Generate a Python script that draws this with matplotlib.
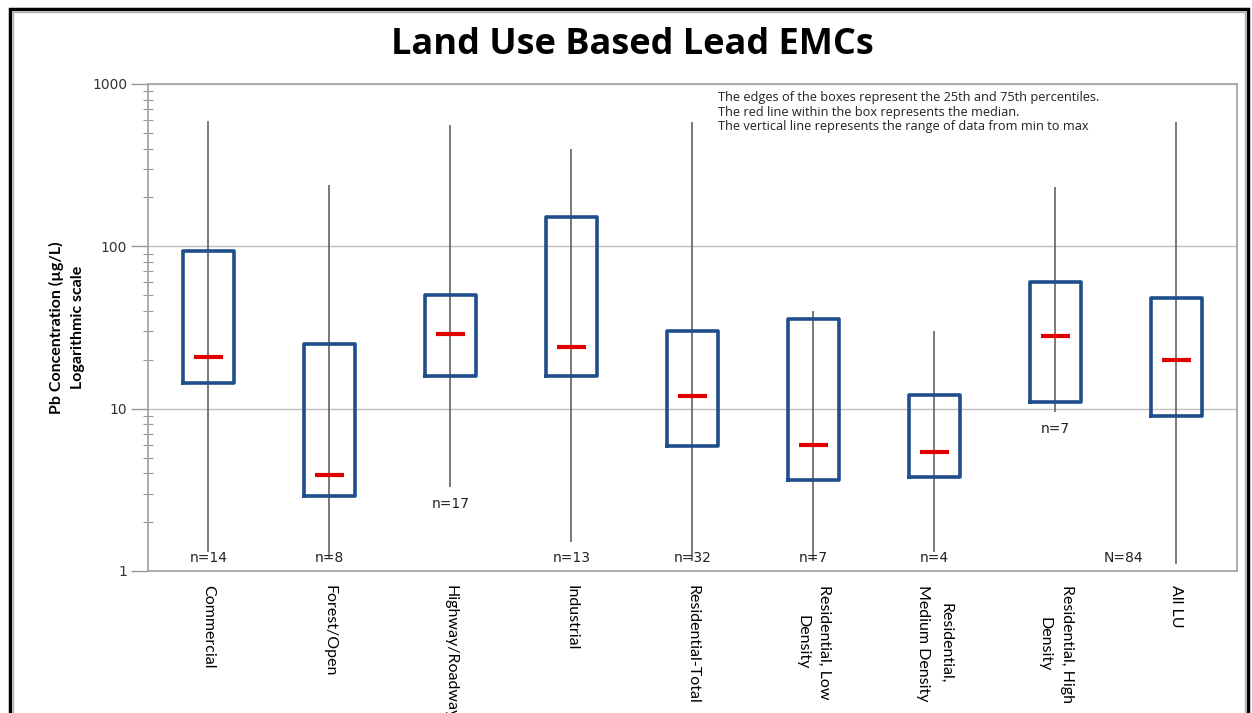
import numpy as np
import matplotlib.pyplot as plt
from matplotlib.patches import Rectangle
from matplotlib.ticker import LogLocator, NullFormatter, FixedLocator

# land use categories and their Pb EMC statistics (ug/L)
categories = ['Commercial', 'Forest/Open', 'Highway/Roadway', 'Industrial',
              'Residential-Total', 'Residential, Low\nDensity',
              'Residential,\nMedium Density', 'Residential, High\nDensity', 'All LU']
pb_min = [1.30, 1.20, 3.3, 1.50, 1.15, 1.15, 1.30, 9.6, 1.10]
pb_q1 = [14.3, 2.9, 16.0, 16.0, 5.9, 3.65, 3.8, 11.0, 9.0]
pb_med = [20.9, 3.9, 29.0, 24.0, 12.0, 6.0, 5.4, 28.0, 20.0]
pb_q3 = [94, 25, 50, 151, 30, 35.5, 12.1, 60, 48]
pb_max = [590, 240, 555, 400, 580, 40, 30, 231, 585]
n_labels = ['n=14', 'n=8', 'n=17', 'n=13', 'n=32', 'n=7', 'n=4', 'n=7', 'N=84']

note = ("The edges of the boxes represent the 25th and 75th percentiles.\n"
        "The red line within the box represents the median.\n"
        "The vertical line represents the range of data from min to max")

box_color = '#1f4e8c'
med_color = '#e00000'
range_color = '#555555'
grid_color = '#bfbfbf'

fig = plt.figure(figsize=(12.52, 7.13), dpi=100)
ax = fig.add_axes([0.1182, 0.1992, 0.8698, 0.683])

pos = np.arange(len(categories))

# min-max range lines go behind the boxes
ax.vlines(pos, pb_min, pb_max, color=range_color, linewidth=1.1, zorder=2)

stats = []
for i in range(len(categories)):
    stats.append({'med': pb_med[i], 'q1': pb_q1[i], 'q3': pb_q3[i],
                  'whislo': pb_q1[i], 'whishi': pb_q3[i], 'fliers': []})
ax.bxp(stats, positions=pos, widths=0.42, showcaps=False, showfliers=False,
       boxprops={'color': box_color, 'linewidth': 2.6},
       whiskerprops={'linewidth': 0},
       medianprops={'linewidth': 0}, manage_ticks=False, zorder=3)

# short red median marks
ax.hlines(pb_med, pos - 0.12, pos + 0.12, color=med_color, linewidth=3, zorder=4)

# sample size labels
for i, lab in enumerate(n_labels):
    if pb_min[i] > 2:
        y = pb_min[i] * 0.78
    else:
        y = 1.2
    dx = 0
    if lab.startswith('N'):
        dx = -38
    ax.annotate(lab, (pos[i], y), xytext=(dx, 0), textcoords='offset points',
                ha='center', va='center', fontsize=10, color='#222222', zorder=5)

ax.set_yscale('log')
ax.set_ylim(1, 1000)
ax.set_xlim(-0.5, len(categories) - 0.5)
ax.yaxis.set_major_locator(FixedLocator([1, 10, 100, 1000]))
ax.set_yticklabels(['1', '10', '100', '1000'])
ax.yaxis.set_minor_locator(LogLocator(base=10, subs=np.arange(2, 10)))
ax.yaxis.set_minor_formatter(NullFormatter())
ax.tick_params(axis='y', which='major', direction='out', length=12, width=1,
               color='#999999', labelsize=10, labelcolor='#333333', pad=3)
ax.tick_params(axis='y', which='minor', direction='inout', length=7, width=0.8,
               color='#999999')

ax.set_xticks(pos)
ax.set_xticklabels(categories, rotation=270, fontsize=11.5, family='Lato',
                   ha='center', va='top', multialignment='center')
for t in ax.get_xticklabels():
    t.set_linespacing(1.75)
ax.tick_params(axis='x', length=0, pad=10)

ax.grid(axis='y', which='major', color=grid_color, linewidth=1)
ax.set_axisbelow(True)
for s in ax.spines.values():
    s.set_color('#a6a6a6')
    s.set_linewidth(1.3)

ax.set_ylabel('Pb Concentration (µg/L)\nLogarithmic scale', fontsize=11.5,
              family='Lato', fontweight='bold', linespacing=1.6)
ax.yaxis.label.set_va('center')
ax.yaxis.set_label_coords(-0.0744, 0.5)

ax.text(0.523, 0.985, note, transform=ax.transAxes, ha='left', va='top',
        fontsize=9.2, family='Open Sans', color='#222222', linespacing=1.15)

fig.text(0.505, 0.937, 'Land Use Based Lead EMCs', ha='center', va='center',
         fontsize=26, fontweight='bold', family='Open Sans')

# outer frame of the chart object
fig.patches.append(Rectangle((10 / 1252, -0.05), 1238 / 1252, 1.05 - 9 / 713,
                             transform=fig.transFigure, fill=False,
                             edgecolor='black', linewidth=2.5))
fig.patches.append(Rectangle((13 / 1252, -0.05), 1232 / 1252, 1.05 - 12 / 713,
                             transform=fig.transFigure, fill=False,
                             edgecolor='#b0b0b0', linewidth=1))

plt.savefig('out.png', dpi=100)
